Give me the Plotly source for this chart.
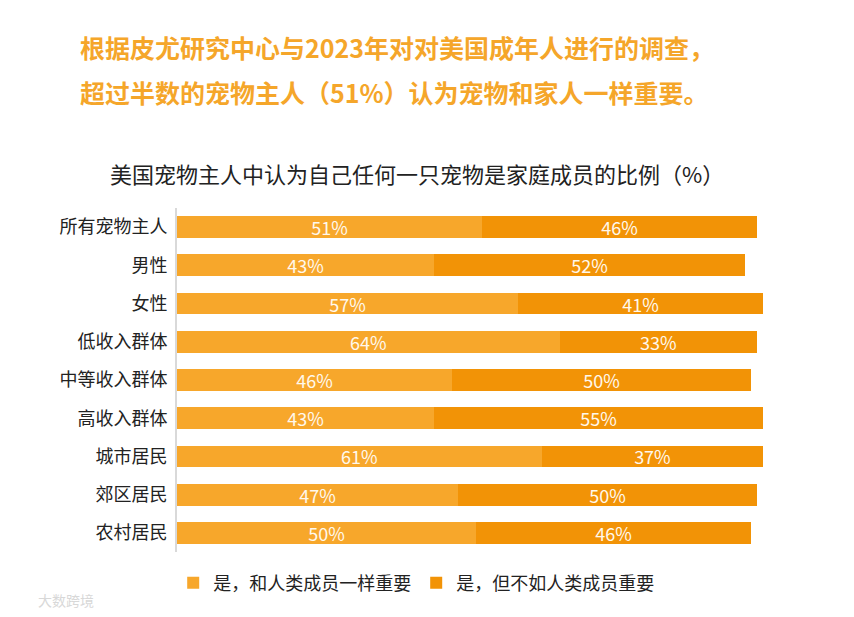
import plotly.graph_objects as go

# data
groups = ["所有宠物主人", "男性", "女性", "低收入群体", "中等收入群体",
          "高收入群体", "城市居民", "郊区居民", "农村居民"]
same_as_family = [51, 43, 57, 64, 46, 43, 61, 47, 50]
less_than_family = [46, 52, 41, 33, 50, 55, 37, 50, 46]
series_names = ["是，和人类成员一样重要", "是，但不如人类成员重要"]

FONT = "Noto Sans CJK SC"
light_orange = "#F7A72B"
dark_orange = "#F29306"

fig = go.Figure()
fig.add_trace(go.Bar(
    y=groups, x=same_as_family, orientation="h", name=series_names[0],
    marker=dict(color=light_orange, line=dict(width=0)),
    text=[str(v) + "%" for v in same_as_family], textposition="inside",
    insidetextanchor="middle", constraintext="none",
    textfont=dict(color="#FFF8EC", size=18, family=FONT),
))
fig.add_trace(go.Bar(
    y=groups, x=less_than_family, orientation="h", name=series_names[1],
    marker=dict(color=dark_orange, line=dict(width=0)),
    text=[str(v) + "%" for v in less_than_family], textposition="inside",
    insidetextanchor="middle", constraintext="none",
    textfont=dict(color="#FFF8EC", size=18, family=FONT),
))

# the page body adds 8px, so margins are pulled in by 8px
fig.update_layout(
    width=854, height=617,
    barmode="stack", bargap=0.43,
    plot_bgcolor="white", paper_bgcolor="white",
    font=dict(family=FONT, color="#222"),
    margin=dict(l=169, r=87, t=200, b=73),
    xaxis=dict(range=[0, 100], visible=False, fixedrange=True, automargin=False),
    yaxis=dict(autorange="reversed", showgrid=False, ticks="", automargin=False,
               showline=True, linecolor="#d9d9d9", linewidth=1.5,
               tickfont=dict(size=18, color="#222", family=FONT),
               ticksuffix=" "),
    legend=dict(orientation="h", x=0.40, xanchor="center", y=-0.09,
                yanchor="middle", font=dict(size=18, color="#222", family=FONT),
                traceorder="normal", itemwidth=30, tracegroupgap=0),
)

# headline above the chart
fig.add_annotation(
    xref="paper", yref="paper", x=-0.166, y=1.468, xanchor="left", yanchor="middle",
    text="<b>根据皮尤研究中心与2023年对对美国成年人进行的调查，</b>",
    showarrow=False, font=dict(size=25, color="#F5A62A", family=FONT),
)
fig.add_annotation(
    xref="paper", yref="paper", x=-0.166, y=1.337, xanchor="left", yanchor="middle",
    text="<b>超过半数的宠物主人（51%）认为宠物和家人一样重要。</b>",
    showarrow=False, font=dict(size=25, color="#F5A62A", family=FONT),
)
# chart title
fig.add_annotation(
    xref="paper", yref="paper", x=-0.115, y=1.102, xanchor="left", yanchor="middle",
    text="美国宠物主人中认为自己任何一只宠物是家庭成员的比例（%）",
    showarrow=False, font=dict(size=22, color="#222", family=FONT),
)
# faint watermark
fig.add_annotation(
    xref="paper", yref="paper", x=-0.235, y=-0.14, xanchor="left", yanchor="middle",
    text="大数跨境", showarrow=False,
    font=dict(size=14, color="#d8d8d8", family=FONT),
)

fig.write_html("out.html")
